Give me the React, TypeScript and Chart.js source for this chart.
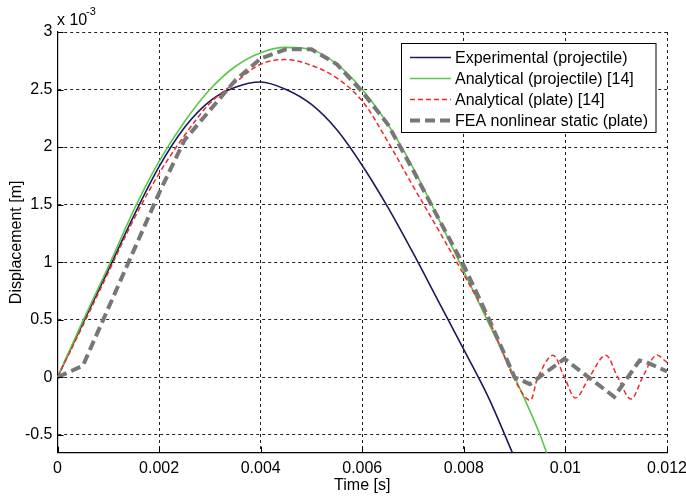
import React, { useEffect, useRef } from "react";
import { Chart, registerables } from "chart.js";
Chart.register(...registerables);

// Time axis [s] and displacement values [x 1e-3 m]
const expT = [0, 0.0005, 0.001, 0.0015, 0.002, 0.0025, 0.003, 0.0035, 0.004, 0.0045, 0.005, 0.0055, 0.006, 0.0065, 0.007, 0.0075, 0.008, 0.0085, 0.00896];
const expV = [0, 0.47, 0.93, 1.4, 1.83, 2.17, 2.4, 2.52, 2.565, 2.5, 2.37, 2.15, 1.84, 1.48, 1.08, 0.66, 0.24, -0.19, -0.66];

const anaProjT = [0, 0.0005, 0.001, 0.0015, 0.002, 0.0025, 0.003, 0.0035, 0.004, 0.0045, 0.005, 0.0055, 0.006, 0.0065, 0.007, 0.0075, 0.008, 0.0085, 0.009, 0.0095, 0.00964];
const anaProjV = [0, 0.49, 0.96, 1.45, 1.875, 2.22, 2.5, 2.7, 2.82, 2.866, 2.845, 2.72, 2.5, 2.2, 1.82, 1.38, 0.92, 0.46, 0.0, -0.5, -0.67];

const anaPlateT = [0, 0.0005, 0.001, 0.0015, 0.002, 0.0025, 0.003, 0.0035, 0.004, 0.0045, 0.005, 0.0055, 0.006, 0.0065, 0.007, 0.0075, 0.008, 0.0085, 0.009, 0.0093, 0.00946, 0.00975, 0.00998, 0.0102, 0.01047, 0.01079, 0.01103, 0.01129, 0.01152, 0.01178, 0.012];
const anaPlateV = [0, 0.45, 0.91, 1.37, 1.77, 2.1, 2.38, 2.56, 2.72, 2.76, 2.71, 2.6, 2.4, 2.05, 1.66, 1.28, 0.89, 0.49, -0.02, -0.2, 0, 0.19, 0, -0.18, 0, 0.19, 0, -0.19, 0, 0.19, 0.13];

const feaT = [0, 0.0005, 0.001, 0.0015, 0.002, 0.0025, 0.003, 0.0035, 0.004, 0.0045, 0.005, 0.0055, 0.006, 0.0065, 0.007, 0.0075, 0.008, 0.0085, 0.009, 0.0093, 0.00998, 0.01096, 0.01146, 0.0116, 0.012];
const feaV = [0, 0.1, 0.6, 1.1, 1.6, 2.06, 2.32, 2.58, 2.77, 2.85, 2.85, 2.72, 2.48, 2.2, 1.8, 1.38, 0.97, 0.5, 0.0, -0.06, 0.16, -0.17, 0.145, 0.13, 0.05];

const xTicks = [0, 0.002, 0.004, 0.006, 0.008, 0.01, 0.012];
const xTickLabels = ["0", "0.002", "0.004", "0.006", "0.008", "0.01", "0.012"];
const yTicks = [-0.5, 0, 0.5, 1, 1.5, 2, 2.5, 3];
const yTickLabels = ["-0.5", "0", "0.5", "1", "1.5", "2", "2.5", "3"];

const seriesNames = [
  "Experimental (projectile)",
  "Analytical (projectile) [14]",
  "Analytical (plate) [14]",
  "FEA nonlinear static (plate)",
];

const FONT = '"Liberation Sans", Arial, sans-serif';
const NAVY = "#1b1a5c";
const GREEN = "#5ac84a";
const RED = "#ee2a2a";
const GRAY = "#777777";

const zip = (t: number[], v: number[]) => t.map((x, i) => ({ x, y: v[i] }));

export default function App() {
  const ref = useRef<HTMLCanvasElement | null>(null);
  useEffect(() => {
    document.body.style.margin = "0";
    const canvas = ref.current!;
    const styles = [
      { color: NAVY, width: 1.6, dash: [] as number[] },
      { color: GREEN, width: 1.6, dash: [] as number[] },
      { color: RED, width: 1.5, dash: [5, 3] },
      { color: GRAY, width: 4, dash: [10, 5] },
    ];
    const overlay = {
      id: "overlay",
      afterDatasetsDraw(chart: any) {
        const ctx = chart.ctx as CanvasRenderingContext2D;
        const a = chart.chartArea;
        const xs = chart.scales.x;
        const ys = chart.scales.y;
        ctx.save();
        // inward tick marks
        ctx.strokeStyle = "#000";
        ctx.lineWidth = 1;
        ctx.setLineDash([]);
        ctx.beginPath();
        xTicks.forEach((t) => {
          const px = Math.round(xs.getPixelForValue(t)) + 0.5;
          ctx.moveTo(px, a.bottom);
          ctx.lineTo(px, a.bottom - 6);
        });
        yTicks.forEach((v) => {
          const py = Math.round(ys.getPixelForValue(v)) + 0.5;
          ctx.moveTo(a.left, py);
          ctx.lineTo(a.left + 6, py);
        });
        ctx.stroke();
        // legend
        const lx = 401.5, ly = 43.5, lw = 254.5, lh = 89;
        ctx.fillStyle = "#fff";
        ctx.fillRect(lx, ly, lw, lh);
        ctx.strokeStyle = "#000";
        ctx.lineWidth = 1;
        ctx.strokeRect(lx, ly, lw, lh);
        ctx.font = `16px ${FONT}`;
        ctx.textBaseline = "middle";
        ctx.textAlign = "left";
        seriesNames.forEach((name, i) => {
          const y = 57.5 + i * 21;
          const s = styles[i];
          ctx.beginPath();
          ctx.strokeStyle = s.color;
          ctx.lineWidth = s.width;
          ctx.setLineDash(s.dash);
          ctx.moveTo(410, y);
          ctx.lineTo(451, y);
          ctx.stroke();
          ctx.setLineDash([]);
          ctx.fillStyle = "#000";
          ctx.fillText(name, 455, y + 1);
        });
        // axis titles
        ctx.fillStyle = "#000";
        ctx.textAlign = "center";
        ctx.textBaseline = "middle";
        ctx.font = `16px ${FONT}`;
        ctx.fillText("Time [s]", (a.left + a.right) / 2, 486);
        ctx.save();
        ctx.translate(16.5, (a.top + a.bottom) / 2);
        ctx.rotate(-Math.PI / 2);
        ctx.fillText("Displacement [m]", 0, 0);
        ctx.restore();
        // exponent
        ctx.textAlign = "left";
        ctx.textBaseline = "alphabetic";
        ctx.font = `16px ${FONT}`;
        ctx.fillText("x 10", 57, 25);
        ctx.font = `11px ${FONT}`;
        ctx.fillText("-3", 86, 15);
        ctx.restore();
      },
    };
    const chart = new Chart(canvas, {
      type: "line",
      data: {
        datasets: [
          { label: seriesNames[0], data: zip(expT, expV), borderColor: NAVY, borderWidth: 1.6, pointRadius: 0, cubicInterpolationMode: "monotone", order: 3 },
          { label: seriesNames[1], data: zip(anaProjT, anaProjV), borderColor: GREEN, borderWidth: 1.6, pointRadius: 0, cubicInterpolationMode: "monotone", order: 2 },
          { label: seriesNames[2], data: zip(anaPlateT, anaPlateV), borderColor: RED, borderWidth: 1.5, borderDash: [5, 3], pointRadius: 0, tension: 0.35, order: 1 },
          { label: seriesNames[3], data: zip(feaT, feaV), borderColor: GRAY, borderWidth: 4, borderDash: [10, 5], pointRadius: 0, tension: 0, order: 0 },
        ],
      },
      options: {
        animation: false,
        responsive: false,
        layout: { padding: { top: 32, right: 19, left: 0, bottom: 0 } },
        plugins: { legend: { display: false }, tooltip: { enabled: false } },
        scales: {
          x: {
            type: "linear",
            min: 0,
            max: 0.012,
            afterBuildTicks: (s: any) => { s.ticks = xTicks.map((v) => ({ value: v })); },
            afterFit: (s: any) => { s.height = 44.3; s.paddingLeft = 0; s.paddingRight = 0; },
            ticks: {
              autoSkip: false,
              maxRotation: 0,
              padding: 6,
              color: "#000",
              font: { family: FONT, size: 16 },
              callback: (v: any) => { const i = xTicks.findIndex((t) => Math.abs(t - v) < 1e-9); return i >= 0 ? xTickLabels[i] : ""; },
            },
            grid: { color: "#222", lineWidth: 1, drawTicks: false },
            border: { display: true, color: "#000", width: 1.2, dash: [3, 3] },
          },
          y: {
            type: "linear",
            min: -0.656,
            max: 3,
            afterBuildTicks: (s: any) => { s.ticks = yTicks.map((v) => ({ value: v })); },
            afterFit: (s: any) => { s.width = 57.5; s.paddingTop = 0; s.paddingBottom = 0; },
            ticks: {
              autoSkip: false,
              padding: 5,
              color: "#000",
              font: { family: FONT, size: 16 },
              callback: (v: any) => { const i = yTicks.findIndex((t) => Math.abs(t - v) < 1e-9); return i >= 0 ? yTickLabels[i] : ""; },
            },
            grid: { color: "#222", lineWidth: 1, drawTicks: false },
            border: { display: true, color: "#000", width: 1.2, dash: [3, 3] },
          },
        },
      },
      plugins: [overlay],
    } as any);
    return () => chart.destroy();
  }, []);
  return <canvas ref={ref} width={686} height={497} style={{ display: "block" }} />;
}
